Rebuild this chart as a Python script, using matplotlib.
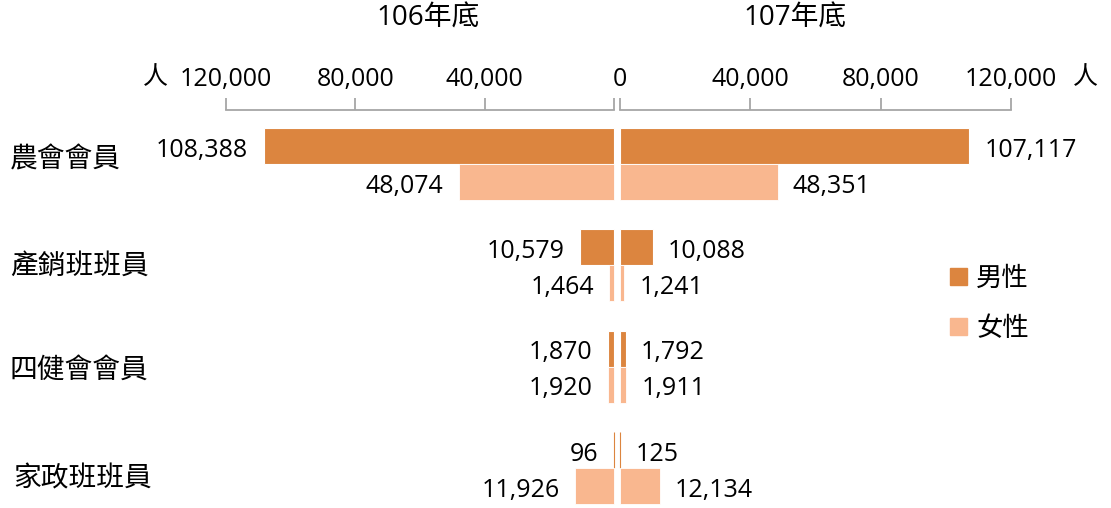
import numpy as np
import matplotlib.pyplot as plt
import matplotlib.transforms as mtransforms
from matplotlib.patches import Patch

plt.rcParams['font.family'] = ['Open Sans', 'Noto Sans CJK TC', 'DejaVu Sans']

categories = ["農會會員", "產銷班班員", "四健會會員", "家政班班員"]
male_106 = [108388, 10579, 1870, 96]
female_106 = [48074, 1464, 1920, 11926]
male_107 = [107117, 10088, 1792, 125]
female_107 = [48351, 1241, 1911, 12134]
ticks = [0, 40000, 80000, 120000]

c_male = "#DC853F"
c_female = "#F9B78F"
spine_c = "#A6A6A6"
fs = 18

W, H = 1111, 508
fig = plt.figure(figsize=(W / 100, H / 100), dpi=100)

y = np.arange(len(categories))
h = 0.355
ylim = (3.396, -0.533)


def edges(vals, face):
    # very thin bars keep a hairline in their own colour so they stay visible
    return [face if v < 1000 else "white" for v in vals]


axes = []
for (x0, x1), m, f, side in [((226, 614), male_106, female_106, "left"),
                             ((620, 1011), male_107, female_107, "right")]:
    ax = fig.add_axes([x0 / W, 0, (x1 - x0) / W, (H - 110) / H])
    ax.barh(y - h / 2, m, height=h, color=c_male, edgecolor=edges(m, c_male),
            linewidth=0.8, clip_on=False)
    ax.barh(y + h / 2, f, height=h, color=c_female, edgecolor=edges(f, c_female),
            linewidth=0.6, clip_on=False)
    ax.set_xlim(0, 120000)
    if side == "left":
        ax.invert_xaxis()
    ax.set_ylim(*ylim)
    for s in ["left", "right", "bottom"]:
        ax.spines[s].set_visible(False)
    ax.spines["top"].set_color(spine_c)
    ax.spines["top"].set_linewidth(1.3)
    ax.xaxis.tick_top()
    ax.set_xticks(ticks)
    labels = ["{:,}".format(t) for t in ticks]
    if side == "left":
        labels[0] = ""
    ax.set_xticklabels(labels, fontsize=fs)
    ax.tick_params(axis="x", direction="out", length=9, width=1.3, color=spine_c, pad=4)
    ax.set_yticks([])
    off = -11 if side == "left" else 11
    ha = "right" if side == "left" else "left"
    for i in range(len(categories)):
        ax.annotate("{:,}".format(m[i]), (m[i], y[i] - h / 2), xytext=(off, -3),
                    textcoords="offset points", ha=ha, va="center", fontsize=fs)
        ax.annotate("{:,}".format(f[i]), (f[i], y[i] + h / 2), xytext=(off, -3),
                    textcoords="offset points", ha=ha, va="center", fontsize=fs)
    axes.append(ax)

fig.text(428 / W, 1 - 19 / H, "106年底", ha="center", va="center", fontsize=20)
fig.text(795 / W, 1 - 19 / H, "107年底", ha="center", va="center", fontsize=20)
fig.text(155 / W, 1 - 78 / H, "人", ha="center", va="center", fontsize=fs)
fig.text(1085 / W, 1 - 78 / H, "人", ha="center", va="center", fontsize=fs)

# category names sit a bit off the group centres in the original
label_dx = [0, 0, 0, 3]
label_dy = [-4, 1, 4, 12]
trans = mtransforms.blended_transform_factory(fig.transFigure, axes[0].transData)
for i, cat in enumerate(categories):
    t = mtransforms.offset_copy(trans, fig=fig, x=label_dx[i], y=-label_dy[i], units="dots")
    fig.text(10 / W, y[i], cat, transform=t, ha="left", va="center", fontsize=20)

handles = [Patch(color=c_male, label="男性"), Patch(color=c_female, label="女性")]
fig.legend(handles=handles, loc="upper left", bbox_to_anchor=(926 / W, 1 - 243 / H),
           frameon=False, fontsize=19, handlelength=0.65, handleheight=0.65,
           handletextpad=0.35, labelspacing=0.95)

fig.savefig("out.png", dpi=100)
